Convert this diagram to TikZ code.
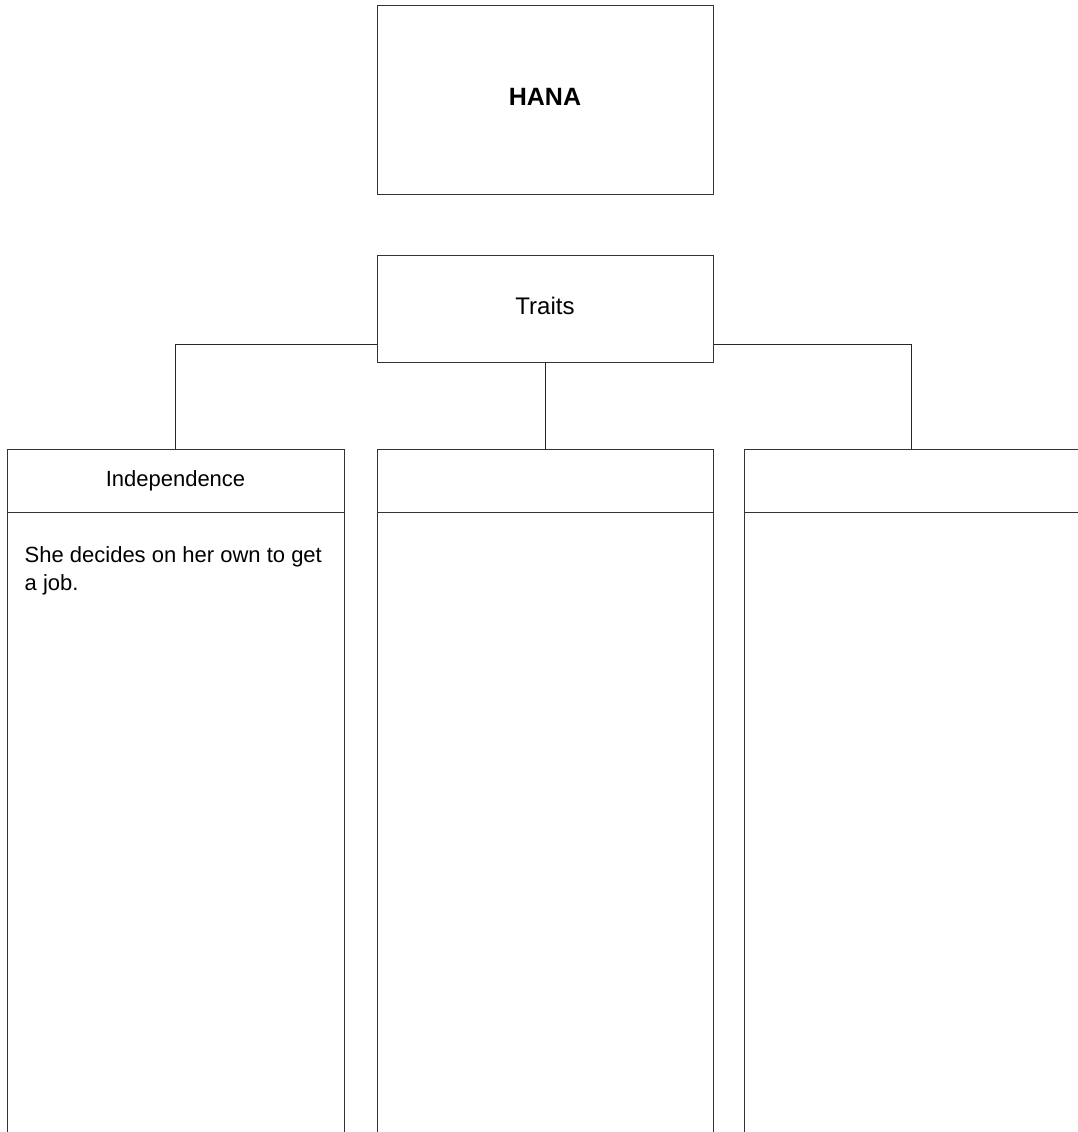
\documentclass[tikz,border=0pt]{standalone}
\usepackage{fontspec}
\setmainfont{Liberation Sans}
\begin{document}
\begin{tikzpicture}[x=1pt,y=-1pt,
  box/.style={draw=black!80, line width=1pt, rectangle, inner sep=0pt},
  conn/.style={draw=black!85, line width=1pt},
  hand/.style={font=\fontsize{22}{28}\selectfont}]
\useasboundingbox (0,0) rectangle (1078,1132);
\clip (0,0) rectangle (1078,1132);
% title
\node[box, minimum width=336pt, minimum height=188pt,
      font=\bfseries\fontsize{25}{30}\selectfont] (hana) at (545,100) {\raisebox{6pt}{HANA}};
% traits
\node[box, minimum width=336pt, minimum height=107pt,
      font=\fontsize{24}{28}\selectfont] (traits) at (545,308.5) {\raisebox{5pt}{Traits}};
% column headers
\node[box, minimum width=337pt, minimum height=63pt, hand] (h1) at (175.5,480.5) {Independence};
\node[box, minimum width=336pt, minimum height=63pt] (h2) at (545,480.5) {};
\node[box, minimum width=340pt, minimum height=63pt] (h3) at (914,480.5) {};
% column bodies
\node[box, minimum width=337pt, minimum height=628pt] (b1) at (175.5,826) {};
\node[box, minimum width=336pt, minimum height=628pt] (b2) at (545,826) {};
\node[box, minimum width=340pt, minimum height=628pt] (b3) at (914,826) {};
% body text
\node[anchor=north west, inner sep=0pt, text width=310pt, align=flush left, hand] (t1)
  at ([xshift=18pt,yshift=-35pt]b1.north west) {She decides on her own to get a job.};
% connectors
\draw[conn] ([yshift=18pt]traits.south west) -| (h1.north);
\draw[conn] (traits.south) -- (h2.north);
\draw[conn] ([yshift=18pt]traits.south east) -| ([xshift=-3pt]h3.north);
\end{tikzpicture}
\end{document}
